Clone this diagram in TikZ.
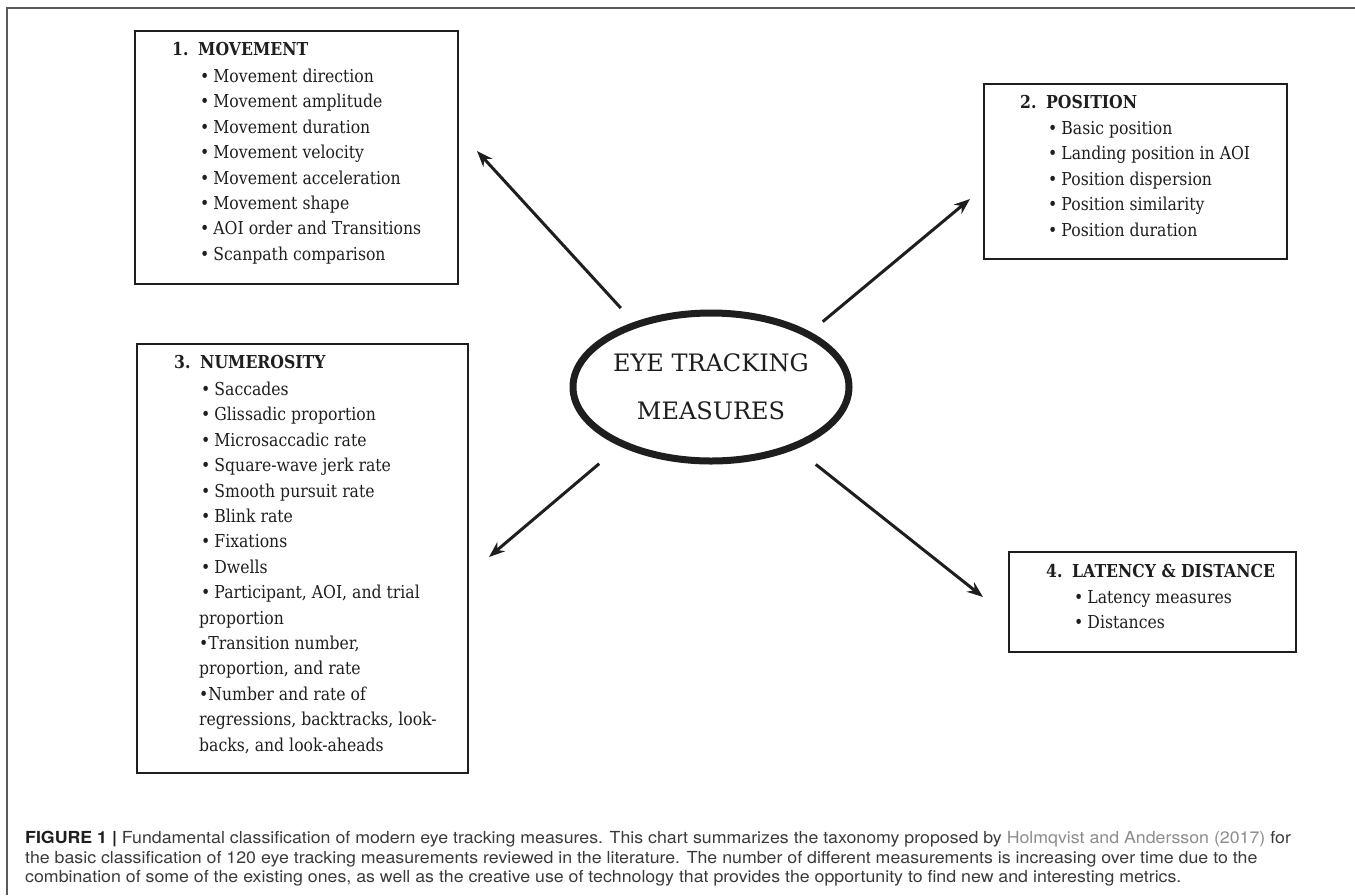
\documentclass[tikz,border=0pt]{standalone}
\usepackage{fontspec}
\usetikzlibrary{positioning,arrows.meta,shapes.geometric}
\newfontfamily\boxfont{DejaVu Serif}[FakeStretch=0.88]
\newfontfamily\hubfont{DejaVu Serif}
\newfontfamily\capfont{TeX Gyre Heros}[FakeStretch=1.07]
\definecolor{inkdark}{HTML}{1E1E1E}
\definecolor{framegray}{HTML}{5A5A5A}
\definecolor{captext}{HTML}{3A3A3A}
\definecolor{capgray}{HTML}{8C8C8C}
\newcommand{\bul}{\textbullet\kern4pt}
\newcommand{\boxhead}[2]{{\bfseries\makebox[26pt][l]{#1}#2}}
\begin{document}
\begin{tikzpicture}[x=1pt, y=-1pt,
    panel/.style={draw=inkdark, line width=2.2pt, rectangle, inner sep=0pt, anchor=north west},
    list/.style={inner sep=0pt, align=left, text=inkdark, font=\boxfont\fontsize{17.8}{25.4}\selectfont},
    hub/.style={ellipse, draw=inkdark, line width=7pt, minimum width=276pt, minimum height=148pt, inner sep=0pt},
    hubtext/.style={align=center, inner sep=0pt, text=inkdark, font=\hubfont\fontsize{24}{48}\selectfont},
    spoke/.style={-{Stealth[length=16pt, width=12pt]}, line width=3pt, draw=inkdark}]
    \useasboundingbox (0,0) rectangle (1355,895);

    % Rahmen oben und links
    \draw[framegray, line width=1.6pt] (7,895) -- (7,8) -- (1355,8);

    % Ellipse in der Mitte
    \node[hub] (hub) at (711,387) {};
    \node[hubtext] (hubtext) at (hub) {EYE TRACKING\\MEASURES};

    % 1. Movement
    \node[panel, minimum width=323pt, minimum height=253pt] (movebox) at (134,30) {};
    \node[list, below right=12pt and 38pt of movebox.north west] (movelist) {%
        \boxhead{1.}{MOVEMENT}\\[1.6pt]
        \hspace*{28pt}\bul Movement direction\\
        \hspace*{28pt}\bul Movement amplitude\\
        \hspace*{28pt}\bul Movement duration\\
        \hspace*{28pt}\bul Movement velocity\\
        \hspace*{28pt}\bul Movement acceleration\\
        \hspace*{28pt}\bul Movement shape\\
        \hspace*{28pt}\bul AOI order and Transitions\\
        \hspace*{28pt}\bul Scanpath comparison};

    % 2. Position
    \node[panel, minimum width=303pt, minimum height=175pt] (posbox) at (983,83) {};
    \node[list, below right=12pt and 37pt of posbox.north west] (poslist) {%
        \boxhead{2.}{POSITION}\\[0.6pt]
        \hspace*{28pt}\bul Basic position\\
        \hspace*{28pt}\bul Landing position in AOI\\
        \hspace*{28pt}\bul Position dispersion\\
        \hspace*{28pt}\bul Position similarity\\
        \hspace*{28pt}\bul Position duration};

    % 3. Numerosity
    \node[panel, minimum width=331pt, minimum height=429pt] (numbox) at (136,343) {};
    \node[list, below right=12pt and 38pt of numbox.north west] (numlist) {%
        \boxhead{3.}{NUMEROSITY}\\[1.6pt]
        \hspace*{27pt}\bul Saccades\\
        \hspace*{27pt}\bul Glissadic proportion\\
        \hspace*{27pt}\bul Microsaccadic rate\\
        \hspace*{27pt}\bul Square-wave jerk rate\\
        \hspace*{27pt}\bul Smooth pursuit rate\\
        \hspace*{27pt}\bul Blink rate\\
        \hspace*{27pt}\bul Fixations\\
        \hspace*{27pt}\bul Dwells\\
        \hspace*{27pt}\bul Participant, AOI, and trial\\
        \hspace*{25pt}proportion\\
        \hspace*{25pt}\textbullet Transition number,\\
        \hspace*{25pt}proportion, and rate\\
        \hspace*{25pt}\textbullet Number and rate of\\
        \hspace*{25pt}regressions, backtracks, look-\\
        \hspace*{25pt}backs, and look-aheads};

    % 4. Latency & Distance
    \node[panel, minimum width=287pt, minimum height=100pt] (latbox) at (1008,551) {};
    \node[list, below right=13pt and 38pt of latbox.north west] (latlist) {%
        \boxhead{4.}{LATENCY \& DISTANCE}\\[0.6pt]
        \hspace*{28pt}\bul Latency measures\\
        \hspace*{28pt}\bul Distances};

    % Pfeile von der Ellipse weg
    \coordinate (tip1) at (477,151);
    \coordinate (tip2) at (970,199);
    \coordinate (tip3) at (489,557);
    \coordinate (tip4) at (983,597);
    \draw[spoke, shorten <=19pt] (hub.140) -- (tip1);
    \draw[spoke, shorten <=16pt] (hub.29) -- (tip2);
    \draw[spoke, shorten <=27pt] (hub.213) -- (tip3);
    \draw[spoke, shorten <=25pt] (hub.324) -- (tip4);

    % Bildunterschrift
    \node[anchor=north west, inner sep=0pt, align=left, text=captext,
        font=\capfont\fontsize{16.6}{19.7}\selectfont] (caption) at (25,831) {%
        {\bfseries\color{inkdark}FIGURE 1 |} Fundamental classification of modern eye tracking measures. This chart summarizes the taxonomy proposed by \textcolor{capgray}{Holmqvist and Andersson (2017)} for\\
        the basic classification of 120 eye tracking measurements reviewed in the literature. The number of different measurements is increasing over time due to the\\
        combination of some of the existing ones, as well as the creative use of technology that provides the opportunity to find new and interesting metrics.};
\end{tikzpicture}
\end{document}
